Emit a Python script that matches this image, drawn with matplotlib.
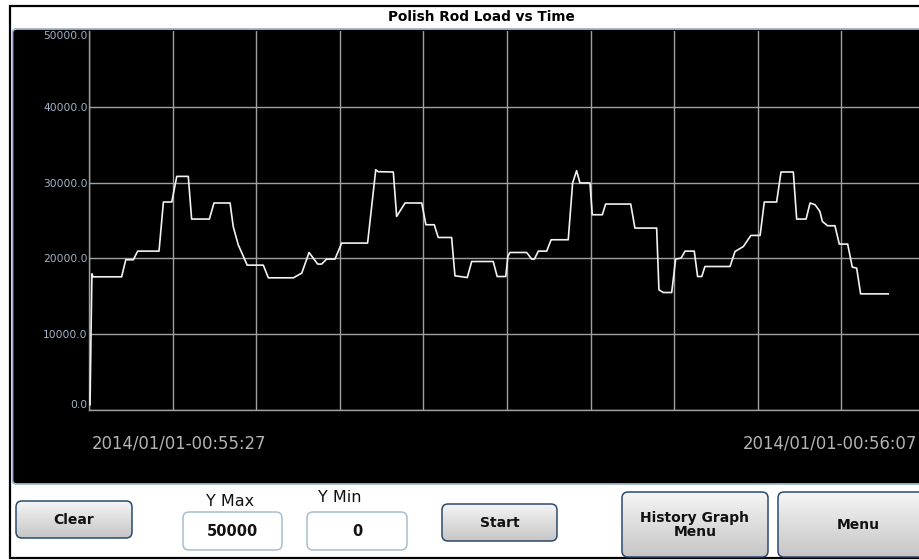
import numpy as np
import matplotlib
matplotlib.use('Agg')
import matplotlib.pyplot as plt
from matplotlib.patches import FancyBboxPatch, Rectangle
from matplotlib.colors import LinearSegmentedColormap

####################
# Data
####################
# seconds since 00:55:27
time_s = [0.05, 0.10, 0.14, 0.19, 1.56, 1.76, 2.12, 2.33, 3.35, 3.56,
          3.96, 4.20, 4.75, 4.91, 5.76, 5.98, 6.75, 6.90, 7.14, 7.57,
          8.34, 8.58, 9.78, 10.18, 10.53, 10.94, 11.13, 11.37, 11.77, 12.09,
          13.33, 13.72, 13.83, 14.56, 14.72, 15.12, 15.92, 16.12, 16.52, 16.71,
          17.35, 17.51, 18.10, 18.31, 19.34, 19.53, 19.94, 20.04, 20.14, 20.94,
          21.18, 21.31, 21.50, 21.90, 22.11, 22.93, 23.14, 23.33, 23.49, 23.97,
          24.08, 24.56, 24.72, 25.92, 26.12, 27.16, 27.27, 27.48, 27.88, 28.07,
          28.33, 28.52, 28.96, 29.12, 29.32, 29.47, 30.67, 30.91, 31.31, 31.67,
          32.11, 32.31, 32.90, 33.11, 33.70, 33.86, 34.31, 34.50, 34.74, 34.97,
          35.09, 35.34, 35.69, 35.90, 36.30, 36.52, 36.73, 36.92, 38.24]
load = [700, 10570, 17970, 17570, 17570, 19820, 19820, 20960, 20960, 27440,
        27440, 30820, 30820, 25190, 25190, 27310, 27310, 24210, 21800, 19110,
        19110, 17440, 17440, 18060, 20780, 19250, 19250, 19910, 19910, 22020,
        22020, 31700, 31440, 31400, 25540, 27310, 27310, 24440, 24440, 22760,
        22760, 17700, 17480, 19590, 19590, 17610, 17610, 20250, 20780, 20780,
        19910, 19910, 20960, 20960, 22460, 22460, 29950, 31570, 29950, 29950,
        25760, 25760, 27170, 27170, 24000, 24000, 15850, 15500, 15500, 19910,
        20040, 20960, 20960, 17610, 17610, 18930, 18930, 20910, 21570, 23030,
        23030, 27440, 27440, 31400, 31400, 25190, 25190, 27310, 27080, 26200,
        24870, 24310, 24310, 21890, 21890, 18850, 18720, 15320, 15320]

y_ticks = [0, 10000, 20000, 30000, 40000, 50000]
x_ticks = [0, 4, 8, 12, 16, 20, 24, 28, 32, 36, 40]
t_start_label = '2014/01/01-00:55:27'
t_end_label = '2014/01/01-00:56:07'
y_max_value = '50000'
y_min_value = '0'

W, H = 919, 560

######################
# Background / frame
######################
fig = plt.figure(figsize=(W / 100, H / 100), dpi=100)
bg = fig.add_axes([0, 0, 1, 1])
bg.axis('off')

grad_cmap = LinearSegmentedColormap.from_list('btn', ['#f5f5f5', '#c6c6c6'])


def button(x, y, w, h, text, fs=10, ec='#2a4a6e'):
    patch = FancyBboxPatch((x, y), w, h, boxstyle='round,pad=0,rounding_size=6',
                           fc='none', ec=ec, lw=1.1, zorder=3)
    bg.add_patch(patch)
    g = np.linspace(0, 1, 64).reshape(-1, 1)
    im = bg.imshow(g, extent=(x, x + w, y + h, y), cmap=grad_cmap,
                   aspect='auto', zorder=2, interpolation='bilinear')
    im.set_clip_path(patch)
    bg.text(x + w / 2, y + h / 2 + 0.5, text, ha='center', va='center',
            fontsize=fs, fontweight='bold', color='#111111', zorder=4,
            linespacing=1.0)


def entry(x, y, w, h, text):
    bg.add_patch(FancyBboxPatch((x, y), w, h, boxstyle='round,pad=0,rounding_size=6',
                                fc='white', ec='#a9bdd1', lw=1.1, zorder=3))
    bg.text(x + w / 2, y + h / 2 + 0.5, text, ha='center', va='center',
            fontsize=10.5, fontweight='bold', color='#111111', zorder=4)


# outer frame and black chart panel
bg.add_patch(Rectangle((9.5, 6), 930, 551.5, fc='white', ec='black', lw=1.6, zorder=0))
bg.add_patch(FancyBboxPatch((12.5, 29), 930, 455, boxstyle='round,pad=0,rounding_size=4',
                            fc='black', ec='#9fb6cc', lw=1.3, zorder=1))
bg.text(481, 17, 'Polish Rod Load vs Time', ha='center', va='center',
        fontsize=9.8, fontweight='bold', color='black')

bg.text(92, 444, t_start_label, ha='left', va='center', fontsize=11.9, color='#b4b4b4')
bg.text(917, 444, t_end_label, ha='right', va='center', fontsize=11.9, color='#b4b4b4')

# bottom controls
button(16, 501, 116, 37, 'Clear')
bg.text(230, 501, 'Y Max', ha='center', va='center', fontsize=11.5, color='#111111')
entry(183, 512, 99, 38, y_max_value)
bg.text(340, 497, 'Y Min', ha='center', va='center', fontsize=11.5, color='#111111')
entry(307, 512, 100, 38, y_min_value)
button(442, 504, 115, 37, 'Start')
button(622, 492, 146, 65, 'History Graph\nMenu')
button(778, 492, 160, 65, 'Menu')

bg.set_xlim(0, W)
bg.set_ylim(H, 0)

######################
# Chart
######################
ax = fig.add_axes([89 / W, (H - 410) / H, (925 - 89) / W, (410 - 31) / H])
ax.set_facecolor('none')
ax.plot(time_s, load, color='#f2f2f2', lw=1.2, zorder=3)
ax.set_xlim(0, 40)
ax.set_ylim(0, 50000)
ax.set_xticks(x_ticks)
ax.set_yticks(y_ticks)
ax.set_xticklabels([])
ax.set_yticklabels(['%.1f' % v for v in y_ticks])
ax.tick_params(length=0, pad=1, labelsize=7.7, labelcolor='#a3b5c8')
labels = ax.get_yticklabels()
labels[0].set_va('bottom')
labels[-1].set_va('top')
ax.grid(True, color='#a0a0a0', lw=1.0)
ax.yaxis.get_gridlines()[-1].set_visible(False)
for s in ['top', 'right']:
    ax.spines[s].set_visible(False)
for s in ['left', 'bottom']:
    ax.spines[s].set_color('#a0a0a0')
    ax.spines[s].set_linewidth(1.0)
ax.set_axisbelow(True)

plt.savefig('out.png', dpi=100)
